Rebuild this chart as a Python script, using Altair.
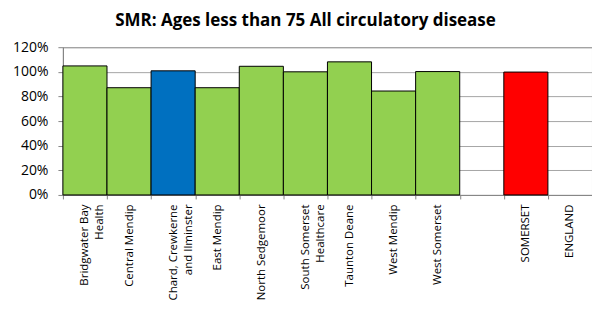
import altair as alt
import pandas as pd

categories = [
    "Bridgwater Bay|Health",
    "Central Mendip",
    "Chard, Crewkerne|and Ilminster",
    "East Mendip",
    "North Sedgemoor",
    "South Somerset|Healthcare",
    "Taunton Deane",
    "West Mendip",
    "West Somerset",
    " ",
    "SOMERSET",
    "ENGLAND",
]
values = [104.8, 87.1, 100.8, 87.1, 104.5, 100.0, 108.1, 84.4, 100.2, None, 99.8, None]
colors = ["#92D050", "#92D050", "#0070C0", "#92D050", "#92D050", "#92D050",
          "#92D050", "#92D050", "#92D050", "#FFFFFF", "#FF0000", "#FFFFFF"]
y_ticks = [0, 20, 40, 60, 80, 100, 120]

df = pd.DataFrame({"cat": categories, "smr": values, "color": colors})
df = df.dropna(subset=["smr"])

base = alt.Chart(df)

bars = base.mark_bar(stroke="black", strokeWidth=1).encode(
    x=alt.X(
        "cat:N",
        sort=categories,
        scale=alt.Scale(domain=categories, paddingInner=0, paddingOuter=0),
        axis=alt.Axis(
            title=None,
            labelAngle=270,
            labelExpr="split(datum.label, '|')",
            labelFontSize=11.5,
            labelFont="Open Sans",
            labelColor="black",
            labelLineHeight=15,
            labelPadding=5,
            tickBand="extent",
            tickSize=4,
            tickColor="#868686",
            domainColor="#868686",
            labelLimit=200,
        ),
    ),
    y=alt.Y(
        "smr:Q",
        scale=alt.Scale(domain=[0, 120], nice=False),
        axis=alt.Axis(
            title=None,
            values=y_ticks,
            labelExpr="datum.value + '%'",
            labelFontSize=14,
            labelFont="Open Sans",
            labelColor="black",
            labelPadding=10,
            tickSize=5,
            tickColor="#868686",
            domainColor="#868686",
            gridColor="#A6A6A6",
            grid=True,
        ),
    ),
    color=alt.Color("color:N", scale=None, legend=None),
)

chart = bars.properties(
    width=530,
    height=148,
    title=alt.TitleParams(
        "SMR: Ages less than 75 All circulatory disease",
        font="Open Sans",
        fontSize=17,
        fontWeight="bold",
        color="black",
        anchor="middle",
        dx=-22,
        offset=10,
    ),
    autosize=alt.AutoSizeParams(type="none"),
    padding={"left": 55, "top": 39, "right": 0, "bottom": 122},
).configure_view(
    stroke="#808080", strokeWidth=1
)

chart.save("out.html", embed_options={"renderer": "svg", "actions": False})
